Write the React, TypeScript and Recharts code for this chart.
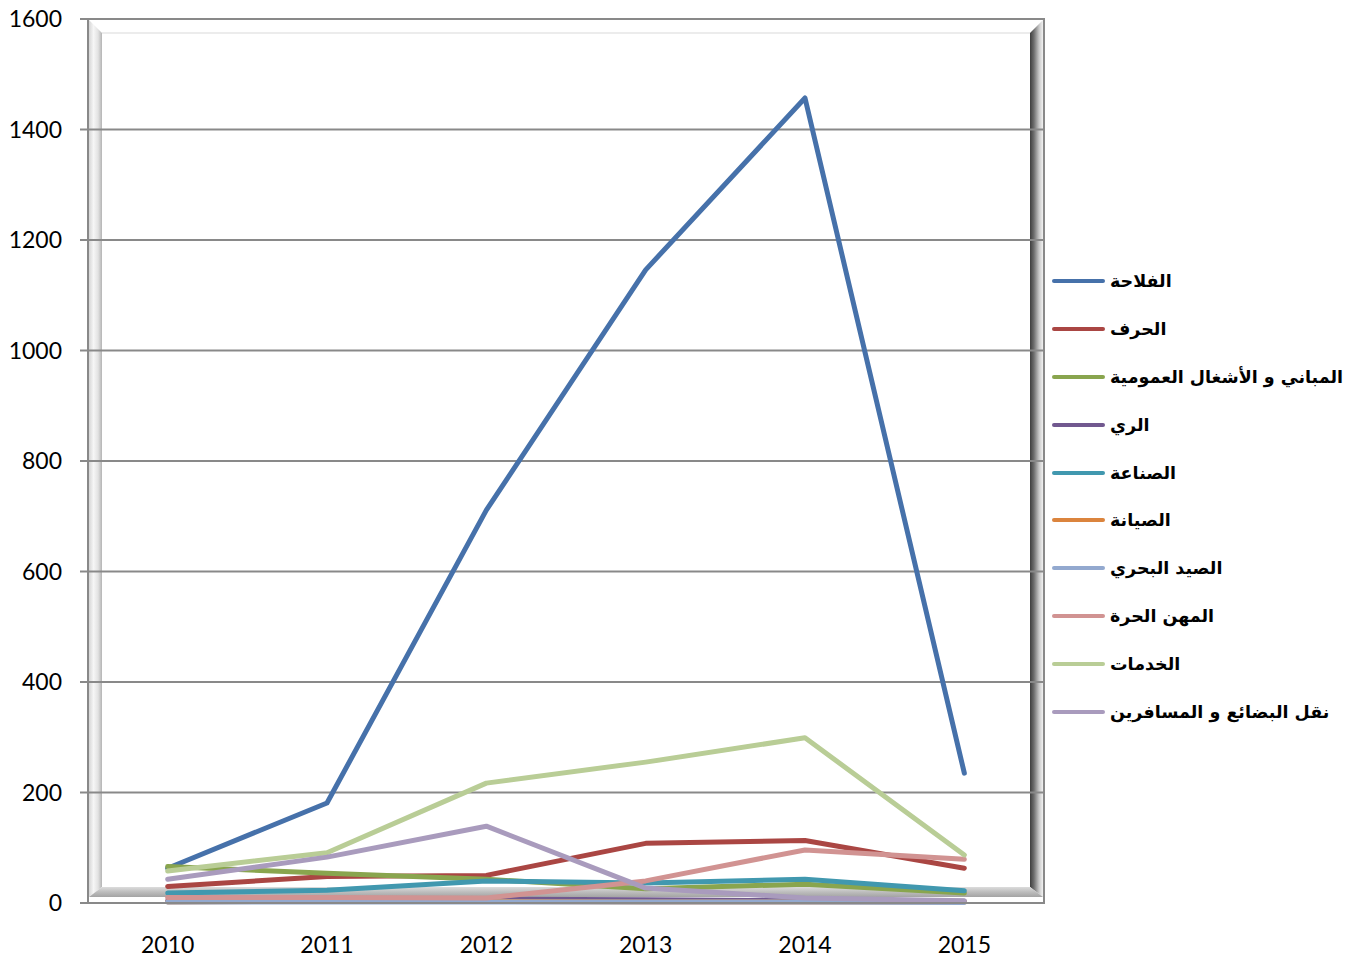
import React from 'react';
import { LineChart, Line, XAxis, YAxis, CartesianGrid } from 'recharts';

// Year categories and the series, one value per year
const years = ['2010', '2011', '2012', '2013', '2014', '2015'];
const yTicks = [0, 200, 400, 600, 800, 1000, 1200, 1400, 1600];
const boundaryTicks = [0, 1, 2, 3, 4, 5, 6];

const falaha = [63, 181, 711, 1146, 1457, 235];
const hiraf = [30, 48, 50, 108, 113, 63];
const mabani = [66, 54, 43, 26, 34, 18];
const ray = [4, 5, 7, 6, 4, 3];
const sinaa = [18, 23, 40, 36, 43, 22];
const siyana = [2, 3, 3, 2, 2, 2];
const sayd = [2, 2, 2, 2, 2, 1];
const mihan = [10, 10, 9, 40, 96, 79];
const khadamat = [58, 91, 217, 255, 299, 87];
const naql = [43, 83, 139, 27, 9, 4];

const seriesNames = [
  'الفلاحة',
  'الحرف',
  'المباني و الأشغال العمومية',
  'الري',
  'الصناعة',
  'الصيانة',
  'الصيد البحري',
  'المهن الحرة',
  'الخدمات',
  'نقل البضائع و المسافرين',
];
const seriesValues = [falaha, hiraf, mabani, ray, sinaa, siyana, sayd, mihan, khadamat, naql];
const seriesColors = [
  '#4671AA',
  '#AA4643',
  '#89A54E',
  '#71588F',
  '#4198AF',
  '#DB843D',
  '#93A9CF',
  '#D19392',
  '#B9CD96',
  '#A99BBD',
];

// Table for the chart: x sits in the middle of each year's band
const data = years.map((y, i) => {
  const row: Record<string, number | string> = { year: y, x: i + 0.5 };
  seriesValues.forEach((vals, k) => {
    row['s' + k] = vals[i];
  });
  return row;
});

const GRID = '#898989';
const tickFont = { fontFamily: 'Lato, "Open Sans", sans-serif', fontSize: 23, fill: '#000' };

// Bevelled plot-area frame drawn behind the chart surface
function Bevel() {
  return (
    <svg width={1346} height={958} style={{ position: 'absolute', left: 0, top: 0 }}>
      <defs>
        <linearGradient id="lw" x1="0" y1="0" x2="1" y2="0">
          <stop offset="0" stopColor="#d6d6d6" />
          <stop offset="0.35" stopColor="#f6f6f6" />
          <stop offset="0.7" stopColor="#e2e2e2" />
          <stop offset="1" stopColor="#b4b4b4" />
        </linearGradient>
        <linearGradient id="rw" x1="0" y1="0" x2="1" y2="0">
          <stop offset="0" stopColor="#3e3e3e" />
          <stop offset="0.3" stopColor="#6e6e6e" />
          <stop offset="0.7" stopColor="#c8c8c8" />
          <stop offset="1" stopColor="#f2f2f2" />
        </linearGradient>
        <linearGradient id="fl" x1="0" y1="0" x2="0" y2="1">
          <stop offset="0" stopColor="#dcdcdc" />
          <stop offset="0.5" stopColor="#bdbdbd" />
          <stop offset="1" stopColor="#a4a4a4" />
        </linearGradient>
      </defs>
      <polygon points="89,20 102,33 102,887 89,897" fill="url(#lw)" />
      <polygon points="1043,20 1030,33 1030,887 1043,897" fill="url(#rw)" />
      <polygon points="89,897 102,887 1030,887 1043,897" fill="url(#fl)" />
      <rect x={102} y={32} width={928} height={2} fill="#ececec" />
      <rect x={1043} y={18} width={2} height={886} fill={GRID} />
    </svg>
  );
}

function LegendBox() {
  return (
    <div
      style={{
        position: 'absolute',
        left: 1050,
        top: 257,
        width: 296,
        fontFamily: '"DejaVu Sans", "Noto Sans", sans-serif',
        fontWeight: 'bold',
        fontSize: 17.5,
        color: '#000',
      }}
    >
      {seriesNames.map((name, k) => (
        <div key={name} style={{ display: 'flex', alignItems: 'center', height: 47.9 }}>
          <div
            style={{
              width: 53,
              height: 4,
              borderRadius: 2,
              marginLeft: 2,
              background: seriesColors[k],
            }}
          />
          <span dir="rtl" style={{ marginLeft: 5, whiteSpace: 'nowrap' }}>
            {name}
          </span>
        </div>
      ))}
    </div>
  );
}

export default function App() {
  return (
    <div style={{ position: 'absolute', left: 0, top: 0, width: 1346, height: 958, background: '#fff' }}>
      <Bevel />
      <div style={{ position: 'absolute', left: 0, top: 0 }}>
        <LineChart width={1346} height={958} data={data} margin={{ top: 19, right: 302, bottom: 0, left: 8 }}>
          <CartesianGrid vertical={false} stroke={GRID} strokeWidth={2} />
          <XAxis
            xAxisId="grid"
            type="number"
            dataKey="x"
            domain={[0, 6]}
            ticks={boundaryTicks}
            tick={false}
            tickSize={7}
            height={1}
            axisLine={{ stroke: GRID, strokeWidth: 2 }}
            tickLine={{ stroke: GRID, strokeWidth: 2 }}
          />
          <XAxis
            xAxisId="yr"
            type="number"
            dataKey="x"
            domain={[0, 6]}
            ticks={years.map((_, i) => i + 0.5)}
            tickFormatter={(v: number) => years[Math.round(v - 0.5)]}
            axisLine={false}
            tickLine={false}
            tickSize={0}
            tickMargin={33}
            height={54}
            tick={tickFont}
            interval={0}
          />
          <YAxis
            type="number"
            domain={[0, 1600]}
            ticks={yTicks}
            width={80}
            tickSize={8}
            tickMargin={18}
            axisLine={{ stroke: GRID, strokeWidth: 2 }}
            tickLine={{ stroke: GRID, strokeWidth: 2 }}
            tick={tickFont}
            interval={0}
          />
          {seriesNames.map((name, k) => (
            <Line
              key={name}
              xAxisId="yr"
              type="linear"
              dataKey={'s' + k}
              name={name}
              stroke={seriesColors[k]}
              strokeWidth={5}
              strokeLinejoin="round"
              strokeLinecap="round"
              dot={false}
              activeDot={false}
              isAnimationActive={false}
            />
          ))}
        </LineChart>
      </div>
      <LegendBox />
    </div>
  );
}
